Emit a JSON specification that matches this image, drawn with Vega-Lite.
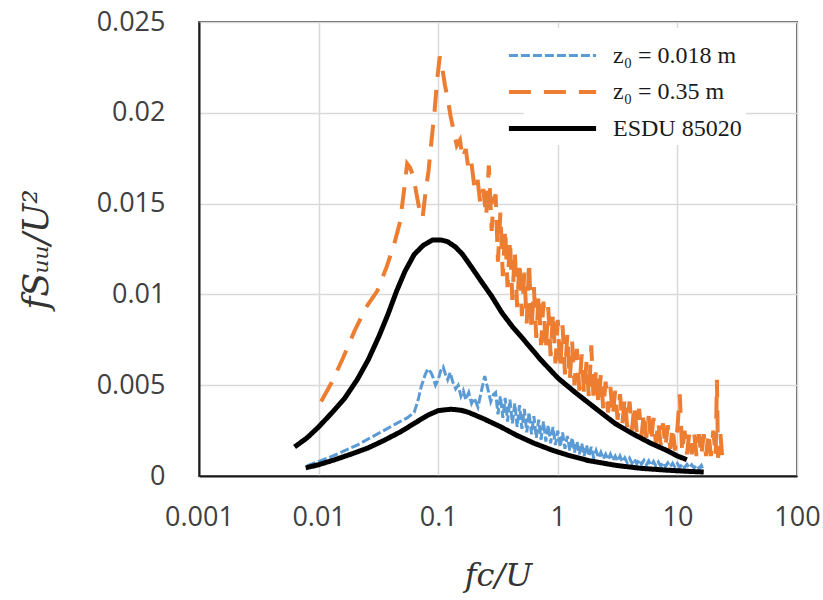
{
  "$schema": "https://vega.github.io/schema/vega-lite/v6.json",
  "width": 598,
  "height": 454,
  "autosize": "none",
  "padding": {"left": 199, "top": 22, "right": 26, "bottom": 124},
  "background": "white",
  "config": {
    "view": {"stroke": "#595959", "strokeWidth": 2},
    "axis": {
      "labelFont": "Open Sans", "labelFontSize": 27, "labelColor": "#404040",
      "gridColor": "#d9d9d9", "gridWidth": 1.5,
      "domainColor": "#1a1a1a", "domainWidth": 2,
      "titleFont": "DejaVu Serif", "titleFontStyle": "italic", "titleFontWeight": "normal",
      "titleColor": "#333333"
    }
  },
  "datasets": {
    "d": [
      {"s": "o", "c": "o", "x": 0.0105, "y": 0.0041},
      {"s": "o", "c": "o", "x": 0.013, "y": 0.0052},
      {"s": "o", "c": "o", "x": 0.016, "y": 0.0065},
      {"s": "o", "c": "o", "x": 0.020, "y": 0.0080},
      {"s": "o", "c": "o", "x": 0.025, "y": 0.0093},
      {"s": "o", "c": "o", "x": 0.031, "y": 0.0102},
      {"s": "o", "c": "o", "x": 0.037, "y": 0.0115},
      {"s": "o", "c": "o", "x": 0.043, "y": 0.0128},
      {"s": "o", "c": "o", "x": 0.048, "y": 0.0140},
      {"s": "o", "c": "o", "x": 0.052, "y": 0.0158},
      {"s": "o", "c": "o", "x": 0.055, "y": 0.0172},
      {"s": "o", "c": "o", "x": 0.058, "y": 0.0170},
      {"s": "o", "c": "o", "x": 0.062, "y": 0.0165},
      {"s": "o", "c": "o", "x": 0.066, "y": 0.0155},
      {"s": "o", "c": "o", "x": 0.070, "y": 0.0146},
      {"s": "o", "c": "o", "x": 0.074, "y": 0.0142},
      {"s": "o", "c": "o", "x": 0.078, "y": 0.0155},
      {"s": "o", "c": "o", "x": 0.083, "y": 0.0168},
      {"s": "o", "c": "o", "x": 0.088, "y": 0.0185},
      {"s": "o", "c": "o", "x": 0.093, "y": 0.0200},
      {"s": "o", "c": "o", "x": 0.098, "y": 0.0218},
      {"s": "o", "c": "o", "x": 0.103, "y": 0.0231},
      {"s": "o", "c": "o", "x": 0.108, "y": 0.0225},
      {"s": "o", "c": "o", "x": 0.114, "y": 0.0215},
      {"s": "o", "c": "o", "x": 0.120, "y": 0.0208},
      {"s": "o", "c": "o", "x": 0.127, "y": 0.0198},
      {"s": "o", "c": "o", "x": 0.135, "y": 0.0190},
      {"s": "o", "c": "o", "x": 0.143, "y": 0.0182},
      {"s": "o", "c": "o", "x": 0.152, "y": 0.0185},
      {"s": "o", "c": "o", "x": 0.160, "y": 0.0175},
      {"s": "o", "c": "o", "x": 0.170, "y": 0.0180},
      {"s": "o", "c": "o", "x": 0.180, "y": 0.0168},
      {"s": "o", "c": "o", "x": 0.190, "y": 0.0172},
      {"s": "o", "c": "o", "x": 0.200, "y": 0.0160},
      {"s": "o", "c": "o", "x": 0.212, "y": 0.0165},
      {"s": "o", "c": "o", "x": 0.225, "y": 0.0150},
      {"s": "o", "c": "o", "x": 0.238, "y": 0.0158},
      {"s": "o", "c": "o", "x": 0.252, "y": 0.0143},
      {"s": "o", "c": "o", "x": 0.265, "y": 0.0171},
      {"s": "o", "c": "o", "x": 0.280, "y": 0.0135},
      {"s": "o", "c": "o", "x": 0.290, "y": 0.0152},
      {"s": "o", "c": "o", "x": 0.302, "y": 0.0155},
      {"s": "o", "c": "o", "x": 0.316, "y": 0.0118},
      {"s": "o", "c": "o", "x": 0.331, "y": 0.0145},
      {"s": "o", "c": "o", "x": 0.347, "y": 0.0110},
      {"s": "o", "c": "o", "x": 0.363, "y": 0.0136},
      {"s": "o", "c": "o", "x": 0.380, "y": 0.0104},
      {"s": "o", "c": "o", "x": 0.398, "y": 0.0130},
      {"s": "o", "c": "o", "x": 0.417, "y": 0.0097},
      {"s": "o", "c": "o", "x": 0.437, "y": 0.0124},
      {"s": "o", "c": "o", "x": 0.457, "y": 0.0093},
      {"s": "o", "c": "o", "x": 0.479, "y": 0.0118},
      {"s": "o", "c": "o", "x": 0.501, "y": 0.0088},
      {"s": "o", "c": "o", "x": 0.525, "y": 0.0112},
      {"s": "o", "c": "o", "x": 0.550, "y": 0.0084},
      {"s": "o", "c": "o", "x": 0.575, "y": 0.0118},
      {"s": "o", "c": "o", "x": 0.603, "y": 0.0080},
      {"s": "o", "c": "o", "x": 0.631, "y": 0.0104},
      {"s": "o", "c": "o", "x": 0.661, "y": 0.0076},
      {"s": "o", "c": "o", "x": 0.692, "y": 0.0100},
      {"s": "o", "c": "o", "x": 0.724, "y": 0.0072},
      {"s": "o", "c": "o", "x": 0.759, "y": 0.0096},
      {"s": "o", "c": "o", "x": 0.794, "y": 0.0069},
      {"s": "o", "c": "o", "x": 0.832, "y": 0.0093},
      {"s": "o", "c": "o", "x": 0.871, "y": 0.0066},
      {"s": "o", "c": "o", "x": 0.912, "y": 0.0090},
      {"s": "o", "c": "o", "x": 0.955, "y": 0.0062},
      {"s": "o", "c": "o", "x": 1.0, "y": 0.0086},
      {"s": "o", "c": "o", "x": 1.047, "y": 0.0059},
      {"s": "o", "c": "o", "x": 1.096, "y": 0.0083},
      {"s": "o", "c": "o", "x": 1.148, "y": 0.0056},
      {"s": "o", "c": "o", "x": 1.202, "y": 0.0078},
      {"s": "o", "c": "o", "x": 1.259, "y": 0.0053},
      {"s": "o", "c": "o", "x": 1.318, "y": 0.0074},
      {"s": "o", "c": "o", "x": 1.380, "y": 0.0050},
      {"s": "o", "c": "o", "x": 1.445, "y": 0.0070},
      {"s": "o", "c": "o", "x": 1.514, "y": 0.0047},
      {"s": "o", "c": "o", "x": 1.585, "y": 0.0067},
      {"s": "o", "c": "o", "x": 1.660, "y": 0.0045},
      {"s": "o", "c": "o", "x": 1.738, "y": 0.0063},
      {"s": "o", "c": "o", "x": 1.820, "y": 0.0043},
      {"s": "o", "c": "o", "x": 1.905, "y": 0.0072},
      {"s": "o", "c": "o", "x": 1.995, "y": 0.0041},
      {"s": "o", "c": "o", "x": 2.089, "y": 0.0059},
      {"s": "o", "c": "o", "x": 2.188, "y": 0.0039},
      {"s": "o", "c": "o", "x": 2.291, "y": 0.0056},
      {"s": "o", "c": "o", "x": 2.399, "y": 0.0037},
      {"s": "o", "c": "o", "x": 2.512, "y": 0.0052},
      {"s": "o", "c": "o", "x": 2.630, "y": 0.0035},
      {"s": "o", "c": "o", "x": 2.754, "y": 0.0049},
      {"s": "o", "c": "o", "x": 2.884, "y": 0.0033},
      {"s": "o", "c": "o", "x": 3.020, "y": 0.0047},
      {"s": "o", "c": "o", "x": 3.162, "y": 0.0031},
      {"s": "o", "c": "o", "x": 3.311, "y": 0.0045},
      {"s": "o", "c": "o", "x": 3.467, "y": 0.0029},
      {"s": "o", "c": "o", "x": 3.631, "y": 0.0043},
      {"s": "o", "c": "o", "x": 3.802, "y": 0.0027},
      {"s": "o", "c": "o", "x": 3.981, "y": 0.0041},
      {"s": "o", "c": "o", "x": 4.169, "y": 0.0025},
      {"s": "o", "c": "o", "x": 4.365, "y": 0.0039},
      {"s": "o", "c": "o", "x": 4.571, "y": 0.0024},
      {"s": "o", "c": "o", "x": 4.786, "y": 0.0037},
      {"s": "o", "c": "o", "x": 5.012, "y": 0.0022},
      {"s": "o", "c": "o", "x": 5.248, "y": 0.0035},
      {"s": "o", "c": "o", "x": 5.495, "y": 0.0021},
      {"s": "o", "c": "o", "x": 5.754, "y": 0.0033},
      {"s": "o", "c": "o", "x": 6.026, "y": 0.0019},
      {"s": "o", "c": "o", "x": 6.310, "y": 0.0032},
      {"s": "o", "c": "o", "x": 6.607, "y": 0.0018},
      {"s": "o", "c": "o", "x": 6.918, "y": 0.0030},
      {"s": "o", "c": "o", "x": 7.244, "y": 0.0017},
      {"s": "o", "c": "o", "x": 7.586, "y": 0.0029},
      {"s": "o", "c": "o", "x": 7.943, "y": 0.0016},
      {"s": "o", "c": "o", "x": 8.318, "y": 0.0028},
      {"s": "o", "c": "o", "x": 8.710, "y": 0.0015},
      {"s": "o", "c": "o", "x": 9.120, "y": 0.0027},
      {"s": "o", "c": "o", "x": 9.550, "y": 0.0014},
      {"s": "o", "c": "o", "x": 10.0, "y": 0.0026},
      {"s": "o", "c": "o", "x": 10.47, "y": 0.0045},
      {"s": "o", "c": "o", "x": 10.96, "y": 0.0013},
      {"s": "o", "c": "o", "x": 11.48, "y": 0.0025},
      {"s": "o", "c": "o", "x": 12.02, "y": 0.0012},
      {"s": "o", "c": "o", "x": 12.59, "y": 0.0024},
      {"s": "o", "c": "o", "x": 13.18, "y": 0.0012},
      {"s": "o", "c": "o", "x": 13.80, "y": 0.0024},
      {"s": "o", "c": "o", "x": 14.45, "y": 0.0011},
      {"s": "o", "c": "o", "x": 15.14, "y": 0.0023},
      {"s": "o", "c": "o", "x": 15.85, "y": 0.0011},
      {"s": "o", "c": "o", "x": 16.60, "y": 0.0023},
      {"s": "o", "c": "o", "x": 17.38, "y": 0.0011},
      {"s": "o", "c": "o", "x": 18.20, "y": 0.0024},
      {"s": "o", "c": "o", "x": 19.05, "y": 0.0011},
      {"s": "o", "c": "o", "x": 19.95, "y": 0.0025},
      {"s": "o", "c": "o", "x": 20.89, "y": 0.0011},
      {"s": "o", "c": "o", "x": 21.4, "y": 0.0053},
      {"s": "o", "c": "o", "x": 21.88, "y": 0.0010},
      {"s": "o", "c": "o", "x": 22.91, "y": 0.0023},
      {"s": "o", "c": "o", "x": 23.7, "y": 0.0010},

      {"s": "b", "c": "b", "x": 0.0080, "y": 0.00055},
      {"s": "b", "c": "b", "x": 0.0095, "y": 0.00075},
      {"s": "b", "c": "b", "x": 0.012, "y": 0.00100},
      {"s": "b", "c": "b", "x": 0.016, "y": 0.00135},
      {"s": "b", "c": "b", "x": 0.021, "y": 0.00170},
      {"s": "b", "c": "b", "x": 0.027, "y": 0.00210},
      {"s": "b", "c": "b", "x": 0.035, "y": 0.00250},
      {"s": "b", "c": "b", "x": 0.045, "y": 0.00290},
      {"s": "b", "c": "b", "x": 0.055, "y": 0.00320},
      {"s": "b", "c": "b", "x": 0.063, "y": 0.00350},
      {"s": "b", "c": "b", "x": 0.068, "y": 0.00420},
      {"s": "b", "c": "b", "x": 0.072, "y": 0.00490},
      {"s": "b", "c": "b", "x": 0.078, "y": 0.00560},
      {"s": "b", "c": "b", "x": 0.082, "y": 0.00590},
      {"s": "b", "c": "b", "x": 0.087, "y": 0.00570},
      {"s": "b", "c": "b", "x": 0.091, "y": 0.00540},
      {"s": "b", "c": "b", "x": 0.095, "y": 0.00500},
      {"s": "b", "c": "b", "x": 0.100, "y": 0.00530},
      {"s": "b", "c": "b", "x": 0.105, "y": 0.00580},
      {"s": "b", "c": "b", "x": 0.110, "y": 0.00600},
      {"s": "b", "c": "b", "x": 0.115, "y": 0.00560},
      {"s": "b", "c": "b", "x": 0.120, "y": 0.00530},
      {"s": "b", "c": "b", "x": 0.126, "y": 0.00570},
      {"s": "b", "c": "b", "x": 0.132, "y": 0.00520},
      {"s": "b", "c": "b", "x": 0.140, "y": 0.00480},
      {"s": "b", "c": "b", "x": 0.147, "y": 0.00500},
      {"s": "b", "c": "b", "x": 0.155, "y": 0.00440},
      {"s": "b", "c": "b", "x": 0.162, "y": 0.00470},
      {"s": "b", "c": "b", "x": 0.170, "y": 0.00420},
      {"s": "b", "c": "b", "x": 0.180, "y": 0.00460},
      {"s": "b", "c": "b", "x": 0.190, "y": 0.00400},
      {"s": "b", "c": "b", "x": 0.200, "y": 0.00430},
      {"s": "b", "c": "b", "x": 0.215, "y": 0.00380},
      {"s": "b", "c": "b", "x": 0.230, "y": 0.00470},
      {"s": "b", "c": "b", "x": 0.245, "y": 0.00550},
      {"s": "b", "c": "b", "x": 0.260, "y": 0.00480},
      {"s": "b", "c": "b", "x": 0.275, "y": 0.00410},
      {"s": "b", "c": "b", "x": 0.290, "y": 0.00450},
      {"s": "b", "c": "b", "x": 0.302, "y": 0.0046},
      {"s": "b", "c": "b", "x": 0.316, "y": 0.0034},
      {"s": "b", "c": "b", "x": 0.331, "y": 0.0044},
      {"s": "b", "c": "b", "x": 0.347, "y": 0.0032},
      {"s": "b", "c": "b", "x": 0.363, "y": 0.0043},
      {"s": "b", "c": "b", "x": 0.380, "y": 0.0030},
      {"s": "b", "c": "b", "x": 0.398, "y": 0.0042},
      {"s": "b", "c": "b", "x": 0.417, "y": 0.0029},
      {"s": "b", "c": "b", "x": 0.437, "y": 0.0040},
      {"s": "b", "c": "b", "x": 0.457, "y": 0.0027},
      {"s": "b", "c": "b", "x": 0.479, "y": 0.0039},
      {"s": "b", "c": "b", "x": 0.501, "y": 0.0026},
      {"s": "b", "c": "b", "x": 0.525, "y": 0.0037},
      {"s": "b", "c": "b", "x": 0.550, "y": 0.0024},
      {"s": "b", "c": "b", "x": 0.575, "y": 0.0035},
      {"s": "b", "c": "b", "x": 0.603, "y": 0.0023},
      {"s": "b", "c": "b", "x": 0.631, "y": 0.0033},
      {"s": "b", "c": "b", "x": 0.661, "y": 0.0021},
      {"s": "b", "c": "b", "x": 0.692, "y": 0.0031},
      {"s": "b", "c": "b", "x": 0.724, "y": 0.0020},
      {"s": "b", "c": "b", "x": 0.759, "y": 0.0030},
      {"s": "b", "c": "b", "x": 0.794, "y": 0.0019},
      {"s": "b", "c": "b", "x": 0.832, "y": 0.0028},
      {"s": "b", "c": "b", "x": 0.871, "y": 0.0018},
      {"s": "b", "c": "b", "x": 0.912, "y": 0.0027},
      {"s": "b", "c": "b", "x": 0.955, "y": 0.0017},
      {"s": "b", "c": "b", "x": 1.0, "y": 0.0025},
      {"s": "b", "c": "b", "x": 1.047, "y": 0.0016},
      {"s": "b", "c": "b", "x": 1.096, "y": 0.0024},
      {"s": "b", "c": "b", "x": 1.148, "y": 0.0015},
      {"s": "b", "c": "b", "x": 1.202, "y": 0.0022},
      {"s": "b", "c": "b", "x": 1.259, "y": 0.0014},
      {"s": "b", "c": "b", "x": 1.318, "y": 0.0021},
      {"s": "b", "c": "b", "x": 1.380, "y": 0.0013},
      {"s": "b", "c": "b", "x": 1.445, "y": 0.0019},
      {"s": "b", "c": "b", "x": 1.514, "y": 0.0012},
      {"s": "b", "c": "b", "x": 1.585, "y": 0.0018},
      {"s": "b", "c": "b", "x": 1.660, "y": 0.0011},
      {"s": "b", "c": "b", "x": 1.738, "y": 0.0017},
      {"s": "b", "c": "b", "x": 1.820, "y": 0.0011},
      {"s": "b", "c": "b", "x": 1.905, "y": 0.0016},
      {"s": "b", "c": "b", "x": 1.995, "y": 0.0010},
      {"s": "b", "c": "b", "x": 2.089, "y": 0.0014},
      {"s": "b", "c": "b", "x": 2.188, "y": 0.0010},
      {"s": "b", "c": "b", "x": 2.291, "y": 0.0013},
      {"s": "b", "c": "b", "x": 2.399, "y": 0.00094},
      {"s": "b", "c": "b", "x": 2.512, "y": 0.0012},
      {"s": "b", "c": "b", "x": 2.630, "y": 0.00090},
      {"s": "b", "c": "b", "x": 2.754, "y": 0.0012},
      {"s": "b", "c": "b", "x": 2.884, "y": 0.00086},
      {"s": "b", "c": "b", "x": 3.020, "y": 0.0011},
      {"s": "b", "c": "b", "x": 3.162, "y": 0.00082},
      {"s": "b", "c": "b", "x": 3.311, "y": 0.0011},
      {"s": "b", "c": "b", "x": 3.467, "y": 0.00078},
      {"s": "b", "c": "b", "x": 3.631, "y": 0.0010},
      {"s": "b", "c": "b", "x": 3.802, "y": 0.00074},
      {"s": "b", "c": "b", "x": 3.981, "y": 0.00098},
      {"s": "b", "c": "b", "x": 4.169, "y": 0.00070},
      {"s": "b", "c": "b", "x": 4.365, "y": 0.00094},
      {"s": "b", "c": "b", "x": 4.571, "y": 0.00067},
      {"s": "b", "c": "b", "x": 4.786, "y": 0.00090},
      {"s": "b", "c": "b", "x": 5.012, "y": 0.00064},
      {"s": "b", "c": "b", "x": 5.248, "y": 0.00086},
      {"s": "b", "c": "b", "x": 5.495, "y": 0.00061},
      {"s": "b", "c": "b", "x": 5.754, "y": 0.00083},
      {"s": "b", "c": "b", "x": 6.026, "y": 0.00058},
      {"s": "b", "c": "b", "x": 6.310, "y": 0.00080},
      {"s": "b", "c": "b", "x": 6.607, "y": 0.00056},
      {"s": "b", "c": "b", "x": 6.918, "y": 0.00077},
      {"s": "b", "c": "b", "x": 7.244, "y": 0.00054},
      {"s": "b", "c": "b", "x": 7.586, "y": 0.00074},
      {"s": "b", "c": "b", "x": 7.943, "y": 0.00052},
      {"s": "b", "c": "b", "x": 8.318, "y": 0.00072},
      {"s": "b", "c": "b", "x": 8.710, "y": 0.00050},
      {"s": "b", "c": "b", "x": 9.120, "y": 0.00070},
      {"s": "b", "c": "b", "x": 9.550, "y": 0.00048},
      {"s": "b", "c": "b", "x": 10.0, "y": 0.00068},
      {"s": "b", "c": "b", "x": 10.47, "y": 0.00047},
      {"s": "b", "c": "b", "x": 10.96, "y": 0.00066},
      {"s": "b", "c": "b", "x": 11.48, "y": 0.00046},
      {"s": "b", "c": "b", "x": 12.02, "y": 0.00064},
      {"s": "b", "c": "b", "x": 12.59, "y": 0.00045},
      {"s": "b", "c": "b", "x": 13.18, "y": 0.00062},
      {"s": "b", "c": "b", "x": 13.80, "y": 0.00044},
      {"s": "b", "c": "b", "x": 14.45, "y": 0.00060},
      {"s": "b", "c": "b", "x": 15.14, "y": 0.00043},
      {"s": "b", "c": "b", "x": 15.85, "y": 0.00058},
      {"s": "b", "c": "b", "x": 16.2, "y": 0.00042},

      {"s": "e", "c": "e1", "x": 0.0063, "y": 0.0016},
      {"s": "e", "c": "e1", "x": 0.0080, "y": 0.0021},
      {"s": "e", "c": "e1", "x": 0.0100, "y": 0.0027},
      {"s": "e", "c": "e1", "x": 0.0130, "y": 0.0035},
      {"s": "e", "c": "e1", "x": 0.0166, "y": 0.0043},
      {"s": "e", "c": "e1", "x": 0.021, "y": 0.0053},
      {"s": "e", "c": "e1", "x": 0.026, "y": 0.0064},
      {"s": "e", "c": "e1", "x": 0.032, "y": 0.0077},
      {"s": "e", "c": "e1", "x": 0.038, "y": 0.0089},
      {"s": "e", "c": "e1", "x": 0.045, "y": 0.0102},
      {"s": "e", "c": "e1", "x": 0.053, "y": 0.0113},
      {"s": "e", "c": "e1", "x": 0.063, "y": 0.0122},
      {"s": "e", "c": "e1", "x": 0.075, "y": 0.0127},
      {"s": "e", "c": "e1", "x": 0.090, "y": 0.0130},
      {"s": "e", "c": "e1", "x": 0.105, "y": 0.0130},
      {"s": "e", "c": "e1", "x": 0.12, "y": 0.0129},
      {"s": "e", "c": "e1", "x": 0.14, "y": 0.0126},
      {"s": "e", "c": "e1", "x": 0.16, "y": 0.0122},
      {"s": "e", "c": "e1", "x": 0.19, "y": 0.0115},
      {"s": "e", "c": "e1", "x": 0.23, "y": 0.0107},
      {"s": "e", "c": "e1", "x": 0.28, "y": 0.0099},
      {"s": "e", "c": "e1", "x": 0.34, "y": 0.0090},
      {"s": "e", "c": "e1", "x": 0.42, "y": 0.0082},
      {"s": "e", "c": "e1", "x": 0.52, "y": 0.0075},
      {"s": "e", "c": "e1", "x": 0.72, "y": 0.0064},
      {"s": "e", "c": "e1", "x": 1.0, "y": 0.0054},
      {"s": "e", "c": "e1", "x": 1.4, "y": 0.0046},
      {"s": "e", "c": "e1", "x": 2.0, "y": 0.0038},
      {"s": "e", "c": "e1", "x": 3.0, "y": 0.0029},
      {"s": "e", "c": "e1", "x": 4.3, "y": 0.0023},
      {"s": "e", "c": "e1", "x": 6.0, "y": 0.0018},
      {"s": "e", "c": "e1", "x": 8.2, "y": 0.0014},
      {"s": "e", "c": "e1", "x": 10.0, "y": 0.0011},
      {"s": "e", "c": "e1", "x": 12.0, "y": 0.0009},

      {"s": "e", "c": "e2", "x": 0.0078, "y": 0.00045},
      {"s": "e", "c": "e2", "x": 0.0100, "y": 0.00062},
      {"s": "e", "c": "e2", "x": 0.0137, "y": 0.00090},
      {"s": "e", "c": "e2", "x": 0.019, "y": 0.00122},
      {"s": "e", "c": "e2", "x": 0.026, "y": 0.00155},
      {"s": "e", "c": "e2", "x": 0.035, "y": 0.00195},
      {"s": "e", "c": "e2", "x": 0.049, "y": 0.00245},
      {"s": "e", "c": "e2", "x": 0.065, "y": 0.00295},
      {"s": "e", "c": "e2", "x": 0.082, "y": 0.00335},
      {"s": "e", "c": "e2", "x": 0.100, "y": 0.00360},
      {"s": "e", "c": "e2", "x": 0.128, "y": 0.00368},
      {"s": "e", "c": "e2", "x": 0.155, "y": 0.00362},
      {"s": "e", "c": "e2", "x": 0.177, "y": 0.00352},
      {"s": "e", "c": "e2", "x": 0.24, "y": 0.00315},
      {"s": "e", "c": "e2", "x": 0.335, "y": 0.00270},
      {"s": "e", "c": "e2", "x": 0.45, "y": 0.00225},
      {"s": "e", "c": "e2", "x": 0.635, "y": 0.00180},
      {"s": "e", "c": "e2", "x": 0.9, "y": 0.00142},
      {"s": "e", "c": "e2", "x": 1.2, "y": 0.00116},
      {"s": "e", "c": "e2", "x": 1.8, "y": 0.00085},
      {"s": "e", "c": "e2", "x": 3.1, "y": 0.00058},
      {"s": "e", "c": "e2", "x": 5.0, "y": 0.00042},
      {"s": "e", "c": "e2", "x": 8.2, "y": 0.00032},
      {"s": "e", "c": "e2", "x": 12.0, "y": 0.00026},
      {"s": "e", "c": "e2", "x": 16.6, "y": 0.00022}
    ]
  },
  "data": {"name": "d"},
  "mark": {"type": "line", "strokeCap": "butt"},
  "encoding": {
    "x": {
      "field": "x", "type": "quantitative",
      "scale": {"type": "log", "domain": [0.001, 100]},
      "axis": {
        "values": [0.001, 0.01, 0.1, 1, 10, 100], "format": "~g",
        "title": "fc/U", "titleFontSize": 32, "tickSize": 0, "labelPadding": 28,
        "labelFlush": false, "titlePadding": 30, "grid": true
      }
    },
    "y": {
      "field": "y", "type": "quantitative",
      "scale": {"domain": [0, 0.025]},
      "axis": {
        "values": [0, 0.005, 0.01, 0.015, 0.02, 0.025], "format": "~g",
        "title": "fSᵤᵤ/U²", "titleFontSize": 35, "tickSize": 0, "labelPadding": 34,
        "labelFlush": false, "titlePadding": 42, "grid": true
      }
    },
    "color": {
      "field": "s", "type": "nominal",
      "scale": {"domain": ["b", "o", "e"], "range": ["#5b9bd5", "#ed7d31", "#000000"]},
      "legend": {
        "title": null, "orient": "none", "legendX": 325, "legendY": 6,
        "fillColor": "white", "padding": 4, "symbolType": "M-2,0H2", "symbolSize": 1900,
        "labelFont": "Liberation Serif", "labelFontSize": 24, "labelColor": "#1a1a1a",
        "labelOffset": 36, "rowPadding": -6,
        "labelExpr": "datum.value == 'b' ? 'z₀ = 0.018 m' : datum.value == 'o' ? 'z₀ = 0.35 m' : 'ESDU 85020'"
      }
    },
    "strokeDash": {
      "field": "s", "type": "nominal",
      "scale": {"domain": ["b", "o", "e"], "range": [[9, 3], [22, 13], [1, 0]]}
    },
    "strokeWidth": {
      "field": "s", "type": "nominal",
      "scale": {"domain": ["b", "o", "e"], "range": [3, 5, 3.5]}
    },
    "detail": {"field": "c"}
  }
}
